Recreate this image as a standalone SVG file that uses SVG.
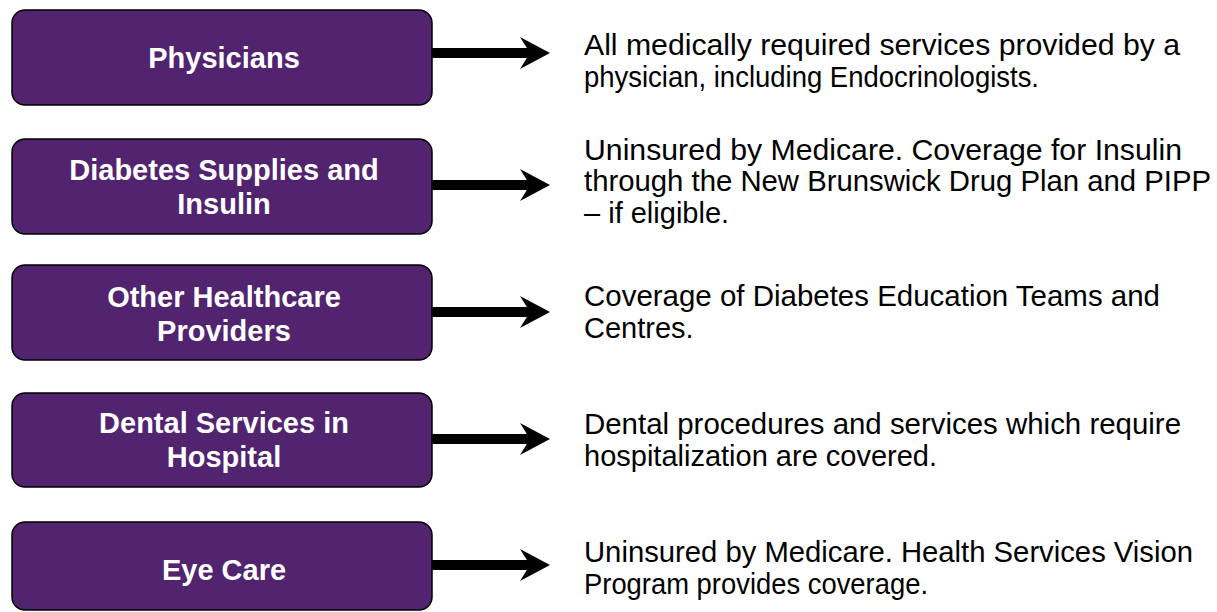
<svg xmlns="http://www.w3.org/2000/svg" width="1217" height="612" viewBox="0 0 1217 612">
  <style>
    .box { fill: #52246F; stroke: #000; stroke-width: 1.5; }
    .lbl { font-family: "Liberation Sans", Arial, sans-serif; font-weight: bold; font-size: 29px; fill: #fff; text-anchor: middle; }
    .desc { font-family: "Liberation Sans", Arial, sans-serif; font-size: 29px; fill: #000; }
    .shaft { stroke: #000; stroke-width: 10; fill: none; }
    .head { fill: #000; }
  </style>
  <rect width="1217" height="612" fill="#fff"/>
  <g id="node-physicians">
    <rect class="box" x="12" y="10" width="420" height="95" rx="13"/>
    <text class="lbl" x="224" y="68">Physicians</text>
  </g>
  <g id="node-supplies">
    <rect class="box" x="12" y="139" width="420" height="95" rx="13"/>
    <text class="lbl" x="224" y="180">Diabetes Supplies and</text>
    <text class="lbl" x="224" y="214">Insulin</text>
  </g>
  <g id="node-providers">
    <rect class="box" x="12" y="265" width="420" height="95" rx="13"/>
    <text class="lbl" x="224" y="307">Other Healthcare</text>
    <text class="lbl" x="224" y="341">Providers</text>
  </g>
  <g id="node-dental">
    <rect class="box" x="12" y="393" width="420" height="94" rx="13"/>
    <text class="lbl" x="224" y="433">Dental Services in</text>
    <text class="lbl" x="224" y="467">Hospital</text>
  </g>
  <g id="node-eye">
    <rect class="box" x="12" y="522" width="420" height="88" rx="13"/>
    <text class="lbl" x="224" y="580">Eye Care</text>
  </g>
  <g id="connectors">
    <line class="shaft" x1="432" y1="53" x2="531" y2="53"/>
    <polygon class="head" points="550,53 520,37 530,53 520,69"/>
    <line class="shaft" x1="432" y1="185" x2="531" y2="185"/>
    <polygon class="head" points="550,185 520,169 530,185 520,201"/>
    <line class="shaft" x1="432" y1="312" x2="531" y2="312"/>
    <polygon class="head" points="550,312 520,296 530,312 520,328"/>
    <line class="shaft" x1="432" y1="439" x2="531" y2="439"/>
    <polygon class="head" points="550,439 520,423 530,439 520,455"/>
    <line class="shaft" x1="432" y1="565" x2="531" y2="565"/>
    <polygon class="head" points="550,565 520,549 530,565 520,581"/>
  </g>
  <g id="descriptions">
    <text class="desc" x="584" y="55" textLength="596" lengthAdjust="spacingAndGlyphs">All medically required services provided by a</text>
    <text class="desc" x="584" y="87" textLength="455" lengthAdjust="spacingAndGlyphs">physician, including Endocrinologists.</text>
    <text class="desc" x="584" y="160" textLength="598" lengthAdjust="spacingAndGlyphs">Uninsured by Medicare. Coverage for Insulin</text>
    <text class="desc" x="584" y="191" textLength="627" lengthAdjust="spacingAndGlyphs">through the New Brunswick Drug Plan and PIPP</text>
    <text class="desc" x="584" y="223">– if eligible.</text>
    <text class="desc" x="584" y="306" textLength="576" lengthAdjust="spacingAndGlyphs">Coverage of Diabetes Education Teams and</text>
    <text class="desc" x="584" y="338">Centres.</text>
    <text class="desc" x="584" y="434" textLength="597" lengthAdjust="spacingAndGlyphs">Dental procedures and services which require</text>
    <text class="desc" x="584" y="466">hospitalization are covered.</text>
    <text class="desc" x="584" y="562" textLength="609" lengthAdjust="spacingAndGlyphs">Uninsured by Medicare. Health Services Vision</text>
    <text class="desc" x="584" y="594" textLength="344" lengthAdjust="spacingAndGlyphs">Program provides coverage.</text>
  </g>
</svg>
